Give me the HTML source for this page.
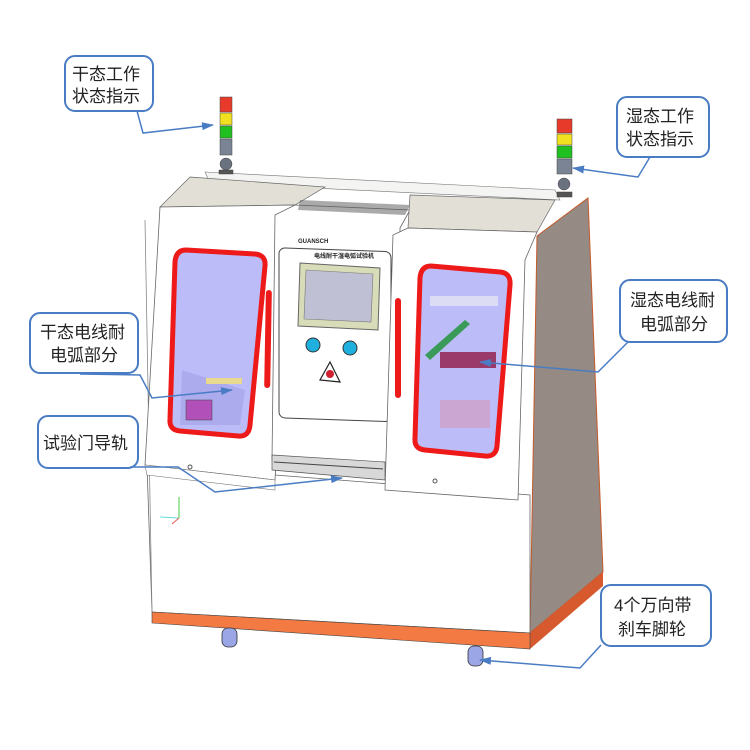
<!DOCTYPE html>
<html><head><meta charset="utf-8"><style>
html,body{margin:0;padding:0;background:#fff}
svg{display:block}
text{font-family:"Liberation Sans","Noto Sans CJK SC",sans-serif;font-size:17px;fill:#222}
</style></head><body>
<svg width="750" height="750" viewBox="0 0 750 750" xmlns="http://www.w3.org/2000/svg">
<defs><marker id="ar" markerWidth="12" markerHeight="8" refX="11" refY="4" orient="auto" markerUnits="userSpaceOnUse"><path d="M0,0 L12,4 L0,8 z" fill="#4a7cc4"/></marker></defs>
<!-- side panel -->
<polygon points="537,236 588,198 603,572 530,633" fill="#958a84" stroke="#c55a2a" stroke-width="1"/>
<polygon points="530,633 603,572 603,586 530,649" fill="#d65a2e"/>
<!-- lower body -->
<polygon points="147,465 530,495 530,633 152,612" fill="#fff" stroke="#666" stroke-width="0.8"/>
<polygon points="152,612 530,633 530,649 152,623" fill="#f47a44" stroke="#444" stroke-width="0.6"/>
<line x1="145" y1="220" x2="152" y2="612" stroke="#888" stroke-width="0.8"/>
<!-- casters -->
<g fill="#9aa6e6" stroke="#333" stroke-width="0.8">
<rect x="222" y="628" width="15" height="19" rx="6"/><rect x="468" y="646" width="15" height="20" rx="6"/></g>
<!-- top strip -->
<polygon points="205,172 555,190 560,200 210,183" fill="#f4f4f2" stroke="#777" stroke-width="0.6"/>
<!-- left cabinet -->
<polygon points="190,177 325,187 295,205 160,207" fill="#e2e0d6" stroke="#666" stroke-width="0.7"/>
<polygon points="160,207 295,205 290,215 275,480 145,465" fill="#fff" stroke="#666" stroke-width="0.8"/>
<polygon points="145,465 275,480 275,490 147,475" fill="#fff" stroke="#777" stroke-width="0.6"/>
<!-- center -->
<polygon points="295,205 410,210 400,228 402,470 272,460 275,215" fill="#fff" stroke="#666" stroke-width="0.8"/>
<polygon points="300,200 410,205 405,215 298,210" fill="#555" opacity="0.5"/>
<rect x="279" y="238" width="112" height="170" rx="6" fill="#fff" stroke="#444" stroke-width="1" transform="skewY(2)"/>
<polygon points="300,263 380,268 378,330 298,326" fill="#d8dcb8" stroke="#666"/>
<polygon points="306,270 373,274 371,322 304,319" fill="#c0c0d4" stroke="#777" stroke-width="0.6"/>
<circle cx="313" cy="345" r="7" fill="#1fb0e0" stroke="#333"/>
<circle cx="350" cy="348" r="7" fill="#1fb0e0" stroke="#333"/>
<polygon points="330,362 340,382 320,380" fill="#fff" stroke="#222" stroke-width="1.2"/>
<circle cx="330" cy="374" r="4" fill="#d02030"/>
<text x="298" y="243" style="font-size:6px;font-weight:bold">GUANSCH</text>
<text x="314" y="258" style="font-size:6px;font-weight:bold">电线耐干湿电弧试验机</text>
<polygon points="272,455 385,462 385,480 272,470" fill="#d8d8d8" stroke="#555" stroke-width="0.7"/>
<line x1="274" y1="462" x2="383" y2="469" stroke="#444"/>
<!-- right cabinet -->
<polygon points="410,195 555,200 537,232 408,228" fill="#e2e0d6" stroke="#666" stroke-width="0.7"/>
<polygon points="408,228 537,232 525,260 518,500 385,490 393,235" fill="#fff" stroke="#666" stroke-width="0.8"/>
<!-- windows -->
<path d="M186,250 L255,254 Q266,255 265,266 L250,425 Q249,437 238,436 L180,431 Q169,430 170,419 L175,262 Q176,250 186,250 z" fill="#bcbcf8" stroke="#ee1a1a" stroke-width="5"/>
<polygon points="182,370 245,390 240,425 180,425" fill="#a0a0e8" opacity="0.6"/>
<rect x="186" y="400" width="26" height="20" fill="#b050b8" stroke="#444" stroke-width="0.5"/>
<rect x="206" y="378" width="36" height="6" fill="#e8d890"/>
<path d="M431,266 L500,272 Q511,273 510,285 L497,446 Q496,457 485,456 L425,450 Q414,449 415,438 L420,278 Q421,266 431,266 z" fill="#bcbcf8" stroke="#ee1a1a" stroke-width="5"/>
<rect x="430" y="296" width="68" height="10" fill="#dcdcf4"/>
<polygon points="425,355 465,320 470,324 430,360" fill="#3a9a5a"/>
<rect x="440" y="352" width="56" height="16" fill="#9a3a6a"/>
<rect x="440" y="400" width="50" height="28" fill="#d0a0c8" opacity="0.8"/>
<!-- handles -->
<rect x="265" y="290" width="6" height="98" rx="3" fill="#ee1a1a" transform="rotate(1 268 340)"/>
<rect x="395" y="298" width="6" height="100" rx="3" fill="#ee1a1a"/>
<circle cx="190" cy="467" r="2" fill="none" stroke="#555"/><circle cx="435" cy="481" r="2" fill="none" stroke="#555"/>
<!-- axis -->
<line x1="179" y1="518" x2="179" y2="497" stroke="#4c4" /><line x1="179" y1="518" x2="160" y2="517" stroke="#6dd"/><line x1="179" y1="518" x2="172" y2="524" stroke="#e55"/>
<!-- lamps -->
<g stroke="#444" stroke-width="0.5">
<rect x="220" y="97" width="12" height="15" fill="#e83a2a"/><rect x="220" y="113" width="12" height="12" fill="#f0e020"/><rect x="220" y="126" width="12" height="12" fill="#20c020"/><rect x="220" y="139" width="12" height="16" fill="#7a8494"/>
<circle cx="226" cy="164" r="6" fill="#6a7280"/><rect x="219" y="170" width="14" height="4" fill="#555"/>
<rect x="557" y="119" width="15" height="14" fill="#e83a2a"/><rect x="557" y="134" width="15" height="11" fill="#f0e020"/><rect x="557" y="146" width="15" height="12" fill="#20c020"/><rect x="557" y="159" width="15" height="15" fill="#7a8494"/>
<circle cx="564" cy="184" r="6" fill="#6a7280"/><rect x="557" y="192" width="15" height="5" fill="#555"/>
</g>
<!-- callouts -->
<g fill="#fff" stroke="#4a7cc4" stroke-width="2">
<rect x="65" y="56" width="88" height="55" rx="10"/>
<rect x="617" y="97" width="92" height="60" rx="10"/>
<rect x="30" y="313" width="108" height="60" rx="10"/>
<rect x="38" y="416" width="100" height="52" rx="10"/>
<rect x="620" y="280" width="107" height="62" rx="10"/>
<rect x="601" y="585" width="110" height="61" rx="10"/>
</g>
<g fill="none" stroke="#4a7cc4" stroke-width="1.5" marker-end="url(#ar)">
<polyline points="137,111 143,133 213,125"/>
<polyline points="650,157 638,177 573,168"/>
<polyline points="80,374 140,375 152,398 232,390"/>
<polyline points="130,467 178,467 215,492 342,478"/>
<polyline points="628,342 598,372 480,362"/>
<polyline points="601,645 580,668 480,660"/>
</g>
<text x="72" y="80">干态工作</text><text x="72" y="102">状态指示</text>
<text x="626" y="122">湿态工作</text><text x="626" y="145">状态指示</text>
<text x="40" y="338">干态电线耐</text><text x="50" y="361">电弧部分</text>
<text x="43" y="449">试验门导轨</text>
<text x="630" y="306">湿态电线耐</text><text x="640" y="330">电弧部分</text>
<text x="614" y="611">4个万向带</text><text x="618" y="635">刹车脚轮</text>
</svg>
</body></html>
